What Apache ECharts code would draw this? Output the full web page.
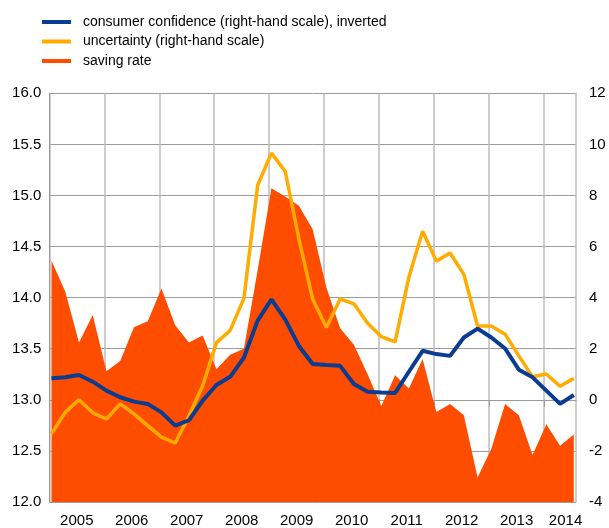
<!DOCTYPE html>
<html>
<head>
<meta charset="utf-8">
<script src="https://cdn.jsdelivr.net/npm/echarts@6/dist/echarts.min.js"></script>
<style>
  html, body { margin: 0; padding: 0; background: #fff; }
  #chart { width: 609px; height: 528px; }
</style>
</head>
<body>
<div id="chart"></div>
<script>
// quarterly data, 2005Q1 - 2014Q3
const years = [2005, 2006, 2007, 2008, 2009, 2010, 2011, 2012, 2013, 2014];
const quarters = [];
years.forEach(y => [1, 2, 3, 4].forEach(q => {
  if (y < 2014 || q <= 3) quarters.push({ year: y, q: q });
}));

const savingRate = [14.36, 14.06, 13.56, 13.83, 13.28, 13.38, 13.71, 13.77, 14.09, 13.73,
  13.56, 13.63, 13.30, 13.44, 13.50, 14.27, 15.07, 14.99, 14.90, 14.67,
  14.10, 13.70, 13.54, 13.25, 12.94, 13.24, 13.11, 13.40, 12.88, 12.96,
  12.85, 12.24, 12.52, 12.96, 12.85, 12.46, 12.76, 12.55, 12.66];

const uncertainty = [-1.33, -0.49, 0.0, -0.51, -0.75, -0.16, -0.55, -1.01, -1.46, -1.69,
  -0.63, 0.55, 2.24, 2.72, 3.97, 8.4, 9.66, 8.95, 6.3, 3.95,
  2.83, 3.95, 3.76, 3.0, 2.47, 2.27, 4.8, 6.6, 5.43, 5.75,
  4.91, 2.89, 2.89, 2.57, 1.72, 0.9, 1.01, 0.53, 0.84];

const confidence = [0.84, 0.88, 0.97, 0.71, 0.36, 0.10, -0.07, -0.16, -0.49, -1.01,
  -0.80, -0.03, 0.58, 0.90, 1.65, 3.1, 3.93, 3.15, 2.11, 1.40,
  1.36, 1.33, 0.62, 0.32, 0.29, 0.27, 1.10, 1.92, 1.79, 1.72,
  2.44, 2.79, 2.44, 2.01, 1.18, 0.88, 0.36, -0.16, 0.19];

const leftTicks = { min: 12, max: 16, step: 0.5 };
const rightTicks = { min: -4, max: 12, step: 2 };

// position of each quarter on the time axis (in years)
const xPos = quarters.map(d => d.year + (d.q - 1) / 4 + 0.04);
const toPairs = arr => arr.map((v, i) => [xPos[i], v]);

const labelPos = years.map(y => y === 2014 ? 2014.39 : y + 0.5);

const font = "'Liberation Sans', Arial, sans-serif";
const chart = echarts.init(document.getElementById('chart'));

chart.setOption({
  animation: false,
  textStyle: { fontFamily: font },
  legend: {
    orient: 'vertical',
    left: 42,
    top: 14,
    padding: 0,
    itemWidth: 29,
    itemHeight: 4,
    itemGap: 3.5,
    icon: 'rect',
    textStyle: { fontSize: 14, color: '#000', lineHeight: 16, padding: [0, 0, 0, 7] },
    data: ['consumer confidence (right-hand scale), inverted', 'uncertainty (right-hand scale)', 'saving rate']
  },
  grid: { left: 49.3, right: 33, top: 93.3, bottom: 24.7 },
  xAxis: {
    type: 'value',
    min: 2005,
    max: 2014.58,
    interval: 1,
    axisLine: { show: true, lineStyle: { color: '#9a9a9a', width: 1 } },
    axisTick: { show: true, length: 7, lineStyle: { color: '#9a9a9a' }, customValues: years },
    axisLabel: {
      customValues: labelPos,
      formatter: v => String(Math.floor(v)),
      fontSize: 15,
      color: '#000',
      margin: 11
    },
    splitLine: { show: true, lineStyle: { color: '#bdbdbd', width: 1.5 } }
  },
  yAxis: [
    {
      type: 'value',
      min: leftTicks.min,
      max: leftTicks.max,
      interval: leftTicks.step,
      axisLine: { show: true, lineStyle: { color: '#9a9a9a' } },
      axisTick: { show: false },
      axisLabel: { formatter: v => v.toFixed(1), fontSize: 15, color: '#000', margin: 8 },
      splitLine: { show: true, lineStyle: { color: '#9c9c9c', width: 1 } }
    },
    {
      type: 'value',
      min: rightTicks.min,
      max: rightTicks.max,
      interval: rightTicks.step,
      position: 'right',
      axisLine: { show: true, lineStyle: { color: '#bdbdbd', width: 1.5 } },
      axisTick: { show: false },
      axisLabel: { fontSize: 15, color: '#000', margin: 13, align: 'left' },
      splitLine: { show: false }
    }
  ],
  series: [
    {
      name: 'saving rate',
      type: 'line',
      yAxisIndex: 0,
      data: toPairs(savingRate),
      symbol: 'none',
      lineStyle: { width: 0 },
      itemStyle: { color: '#ff4d00' },
      areaStyle: { color: '#ff4d00', opacity: 1, origin: 'start' },
      z: 1
    },
    {
      name: 'uncertainty (right-hand scale)',
      type: 'line',
      yAxisIndex: 1,
      data: toPairs(uncertainty),
      symbol: 'none',
      lineStyle: { width: 3.5, color: '#ffab00' },
      itemStyle: { color: '#ffab00' },
      z: 2
    },
    {
      name: 'consumer confidence (right-hand scale), inverted',
      type: 'line',
      yAxisIndex: 1,
      data: toPairs(confidence),
      symbol: 'none',
      lineStyle: { width: 4, color: '#0a3d91' },
      itemStyle: { color: '#0a3d91' },
      z: 3
    }
  ]
});
</script>
</body>
</html>
